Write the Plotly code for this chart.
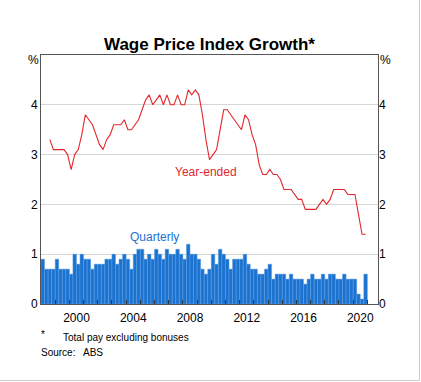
import plotly.graph_objects as go

# Quarterly growth, %, 1998 Q1 - 2020 Q4
quarterly = [
    0.9, 0.7, 0.7, 0.7, 0.9, 0.7, 0.7, 0.7, 0.6, 1.0, 0.8, 1.0, 0.9, 0.9, 0.7, 0.8,
    0.8, 0.8, 0.9, 0.9, 1.0, 0.8, 0.9, 1.0, 0.9, 0.7, 1.0, 1.1, 1.1, 0.9, 1.0,
    0.9, 1.1, 1.0, 0.9, 1.1, 1.0, 1.0, 1.1, 1.0, 0.9, 1.2, 1.0, 1.0, 0.9, 0.7, 0.6,
    0.7, 1.0, 0.8, 1.1, 1.0, 0.9, 0.7, 0.9, 0.9, 0.9, 1.0, 0.8, 0.7, 0.7, 0.6, 0.6,
    0.7, 0.8, 0.5, 0.6, 0.6, 0.6, 0.5, 0.6, 0.5, 0.5, 0.5, 0.4, 0.5, 0.6, 0.5, 0.5,
    0.6, 0.5, 0.6, 0.6, 0.5, 0.5, 0.6, 0.5, 0.5, 0.5, 0.2, 0.1, 0.6,
]
# Year-ended growth, %, 1998 Q3 - 2020 Q4
year_ended = [
    3.3, 3.1,
    3.1, 3.1, 3.1, 3.0,
    2.7, 3.0, 3.1, 3.4,
    3.8, 3.7, 3.6, 3.4,
    3.2, 3.1, 3.3, 3.4,
    3.6, 3.6, 3.6, 3.7,
    3.5, 3.5, 3.6, 3.7,
    3.9, 4.1, 4.2, 4.0,
    4.1, 4.2, 4.0, 4.2,
    4.0, 4.0, 4.2, 4.0,
    4.0, 4.3, 4.2, 4.3,
    4.2, 3.8, 3.3, 2.9,
    3.0, 3.1, 3.5, 3.9,
    3.9, 3.8, 3.7, 3.6,
    3.5, 3.8, 3.7, 3.4,
    3.2, 2.8, 2.6, 2.6,
    2.7, 2.6, 2.6, 2.5,
    2.3, 2.3, 2.3, 2.2,
    2.1, 2.1, 1.9, 1.9,
    1.9, 1.9, 2.0, 2.1,
    2.0, 2.1, 2.3, 2.3,
    2.3, 2.3, 2.2, 2.2,
    2.2, 1.8, 1.4, 1.4,
]
first_year = 1998
label_years = [2000, 2004, 2008, 2012, 2016, 2020]
y_ticks = [0, 1, 2, 3, 4]

x_q = [first_year + i / 4 + 0.125 for i in range(len(quarterly))]
x_ye = x_q[len(quarterly) - len(year_ended):]

FONT = "Liberation Sans, Arial, sans-serif"
BLUE = "#1b72cf"
RED = "#e3262b"
AXIS = "#555555"

# plot-area pixel geometry
L, R, T, B = 41, 43, 55, 78
W, H = 421, 382
PW, PH = W - L - R, H - T - B


def px(x):
    return (x - L) / PW


def py(y):
    return (H - B - y) / PH


fig = go.Figure()
fig.add_trace(go.Bar(
    x=x_q, y=quarterly, width=0.25,
    marker=dict(color=BLUE, line=dict(color="#5a9fe6", width=0.5)),
    hoverinfo="skip", showlegend=False,
))
fig.add_trace(go.Scatter(
    x=x_ye, y=year_ended, mode="lines",
    line=dict(color=RED, width=1.1),
    hoverinfo="skip", showlegend=False,
))
# helper trace to render the secondary axes
fig.add_trace(go.Scatter(
    x=[first_year], y=[0], xaxis="x2", yaxis="y2", mode="markers",
    marker=dict(opacity=0), hoverinfo="skip", showlegend=False,
))


def note(text, x, y, size=10, xanchor="left"):
    return dict(text=text, x=px(x), y=py(y), xref="paper", yref="paper",
                xanchor=xanchor, yanchor="middle", showarrow=False,
                font=dict(size=size))


xr = [first_year, 2021.75]
fig.update_layout(
    width=W, height=H,
    margin=dict(l=L, r=R, t=T, b=B),
    plot_bgcolor="white", paper_bgcolor="white",
    font=dict(family=FONT, size=12, color="black"),
    bargap=0,
    title=dict(text="<b>Wage Price Index Growth*</b>", x=0.5, xref="paper",
               y=1 - 44 / H, yanchor="middle",
               font=dict(family=FONT, size=17, color="black")),
    xaxis=dict(range=xr, tickvals=[y + 0.5 for y in label_years],
               ticktext=[str(y) for y in label_years], ticks="",
               ticklabelstandoff=3,
               showline=True, linecolor=AXIS, linewidth=1, mirror=True,
               showgrid=False, zeroline=False,
               tickfont=dict(size=12, color="black")),
    xaxis2=dict(range=xr, overlaying="x", anchor="y", side="bottom",
                tickvals=list(range(first_year, 2022)), ticks="inside",
                ticklen=4, tickcolor="#333333", tickwidth=1,
                showticklabels=False, showline=False, showgrid=False,
                zeroline=False),
    yaxis=dict(range=[0, 5], tickvals=y_ticks, ticks="",
               showgrid=True, gridcolor="#d6d6d6", gridwidth=1,
               showline=True, linecolor=AXIS, linewidth=1, mirror=True,
               zeroline=False, tickfont=dict(size=12, color="black")),
    yaxis2=dict(range=[0, 5], tickvals=y_ticks, overlaying="y", side="right",
                anchor="x", ticks="", showgrid=False, showline=False,
                zeroline=False, tickfont=dict(size=12, color="black")),
    annotations=[
        dict(text="Year-ended", x=2009.6, y=2.65, xref="x", yref="y",
             showarrow=False, font=dict(size=12, color=RED)),
        dict(text="Quarterly", x=2006.0, y=1.35, xref="x", yref="y",
             showarrow=False, font=dict(size=12, color=BLUE)),
        note("%", 33, 60, size=12, xanchor="center"),
        note("%", 385, 60, size=12, xanchor="center"),
        note("*", 39, 334),
        note("Total pay excluding bonuses", 61, 337),
        note("Source:", 39, 352),
        note("ABS", 81, 352),
    ],
    shapes=[
        dict(type="line", xref="paper", yref="paper",
             x0=px(419.5), x1=px(419.5), y0=py(0), y1=py(380.5),
             line=dict(color="#cccccc", width=1)),
        dict(type="line", xref="paper", yref="paper",
             x0=px(0), x1=px(419.5), y0=py(380.5), y1=py(380.5),
             line=dict(color="#cccccc", width=1)),
    ],
)

fig.write_html(
    "out.html",
    config={"displayModeBar": False, "staticPlot": True},
    post_script="document.body.style.margin='0';document.body.style.overflow='hidden';",
)
